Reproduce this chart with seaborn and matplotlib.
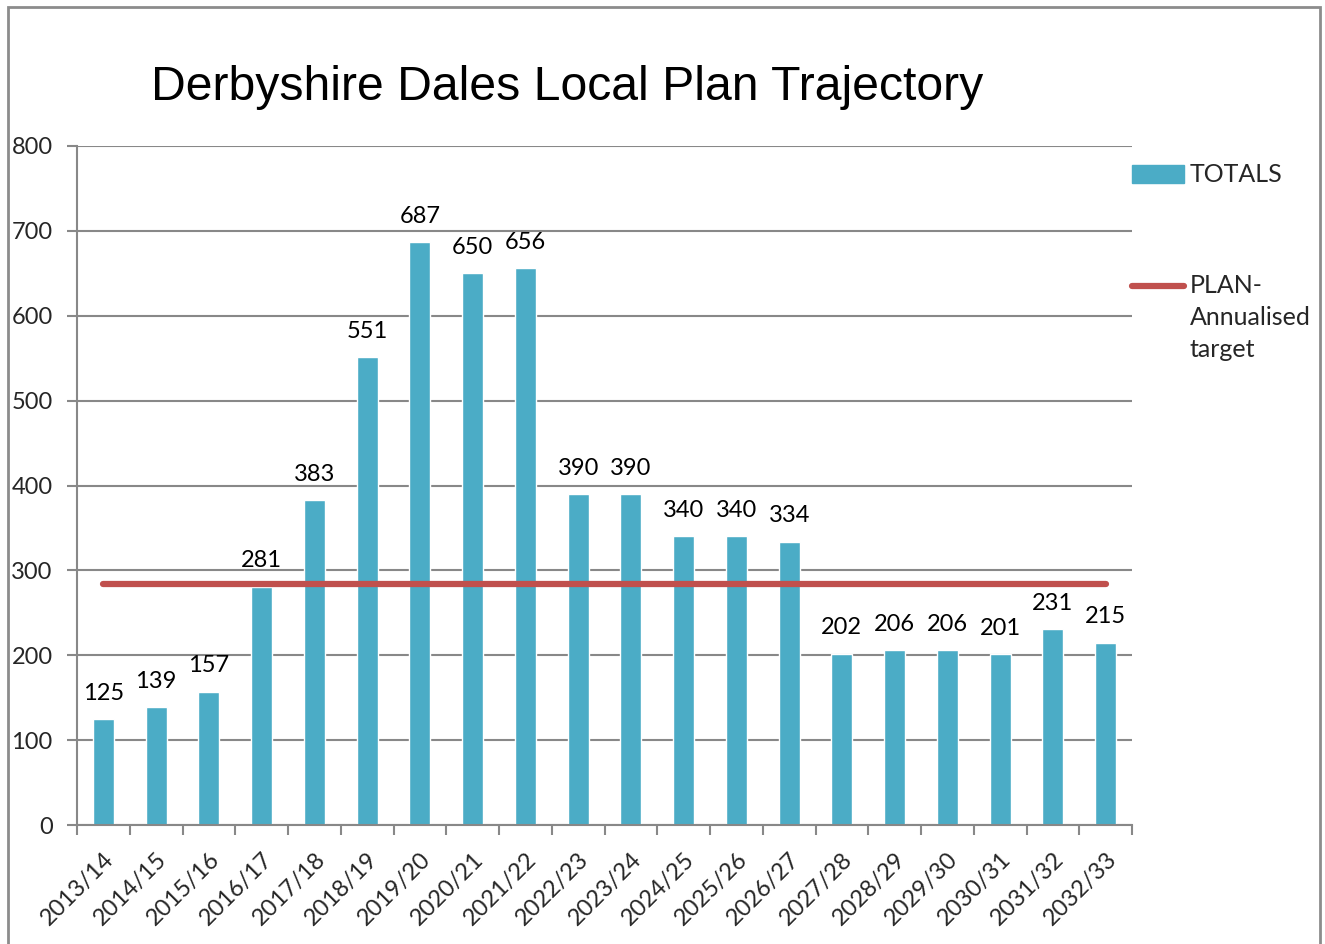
import matplotlib
matplotlib.use("Agg")
import matplotlib.pyplot as plt
import matplotlib.patches as mpatches
from matplotlib.lines import Line2D
import numpy as np
import pandas as pd
import seaborn as sns

years = ["2013/14", "2014/15", "2015/16", "2016/17", "2017/18", "2018/19", "2019/20",
         "2020/21", "2021/22", "2022/23", "2023/24", "2024/25", "2025/26", "2026/27",
         "2027/28", "2028/29", "2029/30", "2030/31", "2031/32", "2032/33"]
totals = [125, 139, 157, 281, 383, 551, 687, 650, 656, 390, 390, 340, 340, 334,
          202, 206, 206, 201, 231, 215]
plan_target = [284] * len(years)

sns.set_theme(style="white")
plt.rcParams['font.family'] = ['Lato', 'DejaVu Sans']

BAR = "#4BACC6"
RED = "#C0504D"
GRID = "#888888"
FS = 17
LFS = 18

fig = plt.figure(figsize=(13.25, 9.44), dpi=100)
ax = fig.add_axes([77/1325, 1-825/944, (1132-77)/1325, (825-146)/944])

df = pd.DataFrame({"year": years, "total": totals, "plan": plan_target})
sns.barplot(data=df, x="year", y="total", color=BAR, saturation=1, width=0.4, ax=ax, zorder=2)
ax.plot(np.arange(len(years)), df["plan"], color=RED, lw=4.5, solid_capstyle="round", zorder=3)

ax.bar_label(ax.containers[0], labels=[str(v) for v in totals], padding=11, fontsize=FS, color="black")

ax.set_ylim(0, 800)
ax.set_xlim(-0.5, len(years) - 0.5)
ax.set_yticks(range(0, 801, 100))
ax.yaxis.grid(True, color=GRID, lw=1.5, zorder=0)
ax.set_axisbelow(True)
ax.set_xlabel("")
ax.set_ylabel("")

ax.set_xticks(np.arange(len(years)))
ax.set_xticklabels(years, rotation=45, ha="right", rotation_mode="anchor", fontsize=FS)
ax.set_xticks(np.arange(len(years) + 1) - 0.5, minor=True)
ax.tick_params(axis="x", which="major", length=0, pad=17)
ax.tick_params(axis="x", which="minor", length=7, width=1.5, color=GRID, direction="out", bottom=True)
ax.tick_params(axis="y", length=7, width=1.5, color=GRID, direction="out", left=True, labelsize=FS, pad=10.5)

for s in ["top", "right"]:
    ax.spines[s].set_visible(False)
for s in ["left", "bottom"]:
    ax.spines[s].set_color(GRID)
    ax.spines[s].set_linewidth(1.5)

fig.text(567/1325, 1-88/944, "Derbyshire Dales Local Plan Trajectory", ha="center", va="center",
         fontsize=34.7, family=["Liberation Sans", "DejaVu Sans"], color="black")

handles = [mpatches.Patch(color=BAR), Line2D([0], [0], color=RED, lw=4.5, solid_capstyle="round")]
leg = fig.legend(handles, ["TOTALS", "PLAN-\nAnnualised\ntarget"], loc="upper left",
                 bbox_to_anchor=(1109/1325, 1-141/944), frameon=False, fontsize=LFS,
                 labelspacing=3.5, handlelength=2.1, handletextpad=0.22, handleheight=0.7)
for t in leg.get_texts():
    t.set_linespacing(1.48)
# align the target-line handle with the first line of its label
hl = leg.legend_handles[1]
yd = np.asarray(hl.get_ydata(), dtype=float)
hl.set_ydata(yd + 23.0)

border = mpatches.Rectangle((8/1325, -0.05), (1320-8)/1325, 1.05-7/944, transform=fig.transFigure,
                            fill=False, edgecolor="#8C8C8C", lw=2)
fig.patches.append(border)

fig.savefig("out.png", dpi=100, facecolor="white")
